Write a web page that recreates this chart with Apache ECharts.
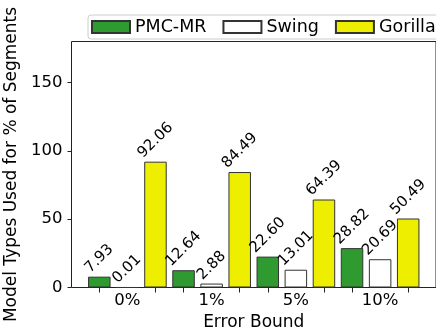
<!DOCTYPE html>
<html><head><meta charset="utf-8">
<script src="https://cdn.jsdelivr.net/npm/echarts@6/dist/echarts.min.js"></script>
<style>html,body{margin:0;padding:0;background:#fff}#c{width:436px;height:328px}</style>
</head><body><div id="c"></div>
<script>
const categories = ['0%', '1%', '5%', '10%'];
const seriesNames = ['PMC-MR', 'Swing', 'Gorilla'];
const pmcValues = [7.93, 12.64, 22.60, 28.82];
const swingValues = [0.01, 2.88, 13.01, 20.69];
const gorillaValues = [92.06, 84.49, 64.39, 50.49];
const yTicks = [0, 50, 100, 150];

const FONT = '"DejaVu Sans", sans-serif';
const colors = ['#2f9a2f', '#ffffff', '#eeee00'];
const barW = 22.5;
const labelSize = 15;
const ctx = document.createElement('canvas').getContext('2d');
ctx.font = labelSize + 'px ' + FONT;
function labelPos(text) {
  const w = ctx.measureText(text).width;
  const h = labelSize * 1.164;
  return [barW / 2, -0.3535 * (w + h)];
}

const groups = [pmcValues, swingValues, gorillaValues];
const nS = groups.length;
const nPos = categories.length * nS;
const lo = -0.4, hi = nPos - 1 + 0.4, pad = 0.05 * (hi - lo);
const tickVals = [], labelVals = [];
for (let k = 0; k < nPos; k++) { if (k % nS === 1) labelVals.push(k); else tickVals.push(k); }

const series = groups.map((vals, j) => ({
  name: seriesNames[j], type: 'bar', barWidth: barW, barGap: '-100%',
  itemStyle: { color: colors[j], borderColor: '#333', borderWidth: 1 },
  label: { show: true, rotate: 45, align: 'center', verticalAlign: 'middle',
    fontSize: labelSize, fontFamily: FONT, color: '#000',
    formatter: p => p.data.value[1].toFixed(2) },
  data: vals.map((v, i) => ({ value: [i * nS + j, v], label: { position: labelPos(v.toFixed(2)) } }))
}));

const chart = echarts.init(document.getElementById('c'));
chart.setOption({
  animation: false,
  textStyle: { fontFamily: FONT },
  grid: { left: 71.5, top: 41.5, width: 364.5, height: 246, show: true, borderColor: '#222', borderWidth: 1,
    containLabel: false, outerBoundsMode: 'none' },
  legend: {
    data: seriesNames, left: 88, top: 15, width: 420, itemWidth: 38, itemHeight: 12, itemGap: 16,
    icon: 'rect', selectedMode: false, padding: [3, 10, 3, 3],
    borderColor: '#ccc', borderWidth: 1, borderRadius: 3, backgroundColor: 'rgba(255,255,255,0.8)',
    textStyle: { fontSize: 17.5, fontFamily: FONT, color: '#000' }
  },
  xAxis: {
    type: 'value', min: lo - pad, max: hi + pad,
    name: 'Error Bound', nameLocation: 'middle', nameGap: 25,
    nameTextStyle: { fontSize: 17, fontFamily: FONT, color: '#000' },
    axisLine: { show: false, onZero: false }, splitLine: { show: false },
    axisTick: { show: true, customValues: tickVals, length: 5, lineStyle: { color: '#222' } },
    axisLabel: { customValues: labelVals, margin: 5, fontSize: 16.5, fontFamily: FONT, color: '#000',
      formatter: v => categories[Math.round((v - 1) / nS)] }
  },
  yAxis: {
    type: 'value', min: 0, max: 180, interval: 50,
    name: 'Model Types Used for % of Segments', nameLocation: 'middle', nameGap: 43,
    nameTextStyle: { fontSize: 17, fontFamily: FONT, color: '#000' },
    axisLine: { show: false, onZero: false }, splitLine: { show: false },
    axisTick: { show: true, customValues: yTicks, length: 4, lineStyle: { color: '#222' } },
    axisLabel: { customValues: yTicks, margin: 9, fontSize: 16.5, fontFamily: FONT, color: '#000' }
  },
  series: series
});
</script></body></html>
